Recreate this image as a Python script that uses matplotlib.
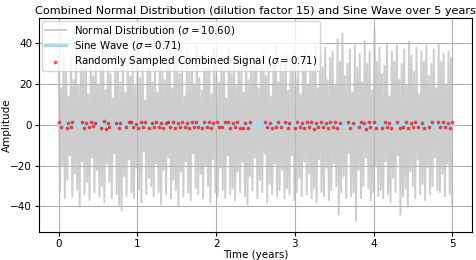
import numpy as np
import matplotlib
matplotlib.use("Agg")
import matplotlib.pyplot as plt

# ---- data ----
noise_high = [31, 18, 35, 26, 14, 33, 22, 38, 19, 30,
              27, 36, 15, 31, 24, 34, 20, 29, 39, 17,
              33, 25, 13, 37, 28, 21, 35, 16, 31, 24,
              34, 19, 38, 23, 30, 12, 28, 36, 21, 31,
              16, 35, 27, 22, 32, 37, 18, 30, 34, 25,
              31, 14, 36, 26, 33, 20, 40, 23, 17, 35,
              28, 32, 15, 37, 24, 21, 34, 29, 13, 38,
              25, 33, 19, 35, 27, 16, 36, 22, 32, 29,
              34, 18, 30, 37, 24, 33, 14, 31, 39, 21,
              32, 26, 35, 17, 30, 36, 23, 33, 15, 31,
              37, 20, 34, 27, 40, 18, 35, 28, 38, 22,
              33, 36, 19, 42, 31, 45, 24, 30, 37, 16,
              39, 28, 35, 21, 41, 30, 36, 17, 47, 31,
              38, 25, 29, 40, 14, 36, 31, 39, 22, 30,
              37, 19, 41, 34, 26, 38, 15, 36, 31, 39,
              24, 30, 37, 18, 40, 31, 35, 20, 36, 33]
noise_low = [33, 20, 36, 27, 15, 35, 24, 32, 40, 18,
             34, 28, 37, 16, 33, 22, 35, 30, 38, 19,
             28, 36, 14, 34, 40, 42, 25, 35, 17, 33,
             36, 21, 32, 38, 13, 34, 26, 30, 35, 19,
             33, 39, 22, 34, 16, 36, 27, 32, 40, 23,
             35, 18, 33, 37, 14, 31, 34, 24, 36, 20,
             30, 38, 17, 33, 35, 21, 32, 36, 15, 34,
             31, 37, 23, 33, 18, 35, 39, 25, 32, 16,
             36, 27, 33, 14, 38, 29, 34, 19, 35, 32,
             22, 36, 31, 34, 15, 37, 33, 26, 35, 18,
             34, 24, 36, 31, 38, 17, 33, 35, 21, 37,
             32, 19, 30, 44, 33, 25, 36, 14, 35, 33,
             47, 22, 36, 30, 16, 31, 37, 33, 20, 35,
             32, 36, 18, 34, 38, 26, 33, 15, 44, 35,
             31, 40, 23, 30, 36, 17, 34, 29, 37, 21,
             34, 30, 16, 32, 33, 24, 35, 19, 34, 39]

sine_cycle = [0.0, 0.71, 1.0, 0.71, 0.0, -0.71, -1.0, -0.71]
sine_cycles = 150

sample_times = [0.01, 0.03,
                0.10, 0.12, 0.15, 0.17,
                0.30, 0.32, 0.35, 0.38, 0.41, 0.44, 0.46,
                0.54, 0.57, 0.60, 0.62, 0.64,
                0.73, 0.76, 0.78,
                0.86, 0.89,
                0.92, 0.95, 0.98, 1.01, 1.04, 1.07, 1.10,
                1.15, 1.18, 1.21, 1.24, 1.27, 1.30, 1.33, 1.36,
                1.39, 1.42, 1.45, 1.48, 1.51, 1.54, 1.57, 1.60, 1.63, 1.66, 1.69, 1.72, 1.75, 1.77,
                1.82, 1.85, 1.88, 1.91, 1.94, 1.96,
                2.01, 2.04,
                2.08, 2.11,
                2.15, 2.18, 2.21, 2.24, 2.27, 2.30,
                2.34, 2.37, 2.40, 2.43,
                2.62, 2.65, 2.68, 2.71,
                2.76, 2.79, 2.83,
                2.88, 2.91, 2.93,
                3.00, 3.03, 3.06, 3.09, 3.12, 3.15, 3.18, 3.21, 3.24, 3.27, 3.30, 3.33, 3.36, 3.39, 3.42, 3.45, 3.48, 3.51, 3.54, 3.57,
                3.67, 3.70, 3.74,
                3.81, 3.84,
                3.88, 3.91, 3.94, 3.96,
                4.00, 4.03,
                4.11, 4.14, 4.17, 4.20, 4.22,
                4.30, 4.33,
                4.38, 4.41, 4.44, 4.47, 4.50, 4.53, 4.57,
                4.61, 4.64,
                4.70, 4.74,
                4.82, 4.85, 4.88, 4.91, 4.94, 4.97, 5.00]
sample_values = [1.4, -1.2,
                 -1.5, 1.1, -0.8, 1.3,
                 1.2, -1.4, 0.9, -1.1, 1.6, -0.7, 1.0,
                 -1.3, 1.8, -2.2, 0.9, -1.0,
                 1.1, -1.3, 0.8,
                 -1.2, 1.4,
                 1.5, -1.1, 0.7, -1.6, 1.2, -0.9, 1.3,
                 -1.4, 1.0, -0.8, 1.5, -1.2, 0.9, -1.5, 1.1,
                 1.3, -1.0, 1.6, -1.4, 0.8, -1.2, 1.4, -0.9, 1.1, -1.6, 1.2, -0.8, 1.5, -1.1,
                 -1.3, 1.2, -0.9, 1.6, -1.5, 1.0,
                 1.4, -1.2,
                 -1.1, 1.3,
                 1.2, -1.5, 0.9, -1.0, 1.6, -1.3,
                 -1.4, 1.1, -1.7, 1.2,
                 1.5, -1.2, 1.0, -1.4,
                 -1.1, 1.3, -0.9,
                 1.2, -1.6, 1.0,
                 -1.3, 1.4, -1.0, 1.1, -1.5, 1.6, -0.9, 1.2, -1.8, 1.0, -1.2, 1.5, -1.1, 0.8, -1.4, 1.3, -1.0, 1.2, -1.3, 1.1,
                 1.4, -1.6, 1.0,
                 -1.2, 1.3,
                 1.1, -1.9, 1.4, -1.0,
                 1.2, -1.4,
                 -1.3, 1.5, -1.0, 1.1, -1.5,
                 1.2, -1.7,
                 -1.2, 1.6, -1.4, 1.0, -1.1, 1.3, -0.9,
                 1.1, -1.3,
                 -1.0, 1.2,
                 1.3, -1.1, 1.4, -1.2, 1.0, -1.3, 1.2]

title = "Combined Normal Distribution (dilution factor 15) and Sine Wave over 5 years"

# ---- build series ----
noise = np.empty(2 * len(noise_high))
noise[0::2] = noise_high
noise[1::2] = -np.array(noise_low)
t_noise = np.linspace(0, 5, len(noise))

sine = np.array(sine_cycle * sine_cycles + [0.0])
t_sine = np.linspace(0, 5, len(sine))

fig = plt.figure(figsize=(4.76, 2.6), dpi=100)
ax = fig.add_axes([0.082, 0.108, 0.9095, 0.823])

ax.plot(t_noise, noise, color="#bdbdbd", alpha=0.75, linewidth=1.4,
        label=r"Normal Distribution ($\sigma = 10.60$)")
ax.plot(t_sine, sine, color="lightblue", linewidth=2.4, alpha=1.0,
        label=r"Sine Wave ($\sigma = 0.71$)")
ax.scatter(sample_times, sample_values, color="red", s=7, alpha=0.7, zorder=3,
           linewidths=0, label=r"Randomly Sampled Combined Signal ($\sigma = 0.71$)")

ax.set_title(title, fontsize=8.1, pad=3)
ax.set_xlabel("Time (years)", fontsize=7.5, labelpad=1)
ax.set_ylabel("Amplitude", fontsize=7.5)
ax.yaxis.set_label_coords(-0.063, 0.5)
ax.tick_params(labelsize=7.5, length=3, pad=2)
ax.set_yticks([-40, -20, 0, 20, 40])
ax.grid(True)
ax.set_xlim(-0.25, 5.25)
ax.set_ylim(-52.5, 52.5)
ax.legend(loc="upper left", fontsize=7.4, borderpad=0.3, labelspacing=0.2,
          handlelength=2.0, handletextpad=0.8, borderaxespad=0.3)

fig.savefig("out.png", dpi=100)
